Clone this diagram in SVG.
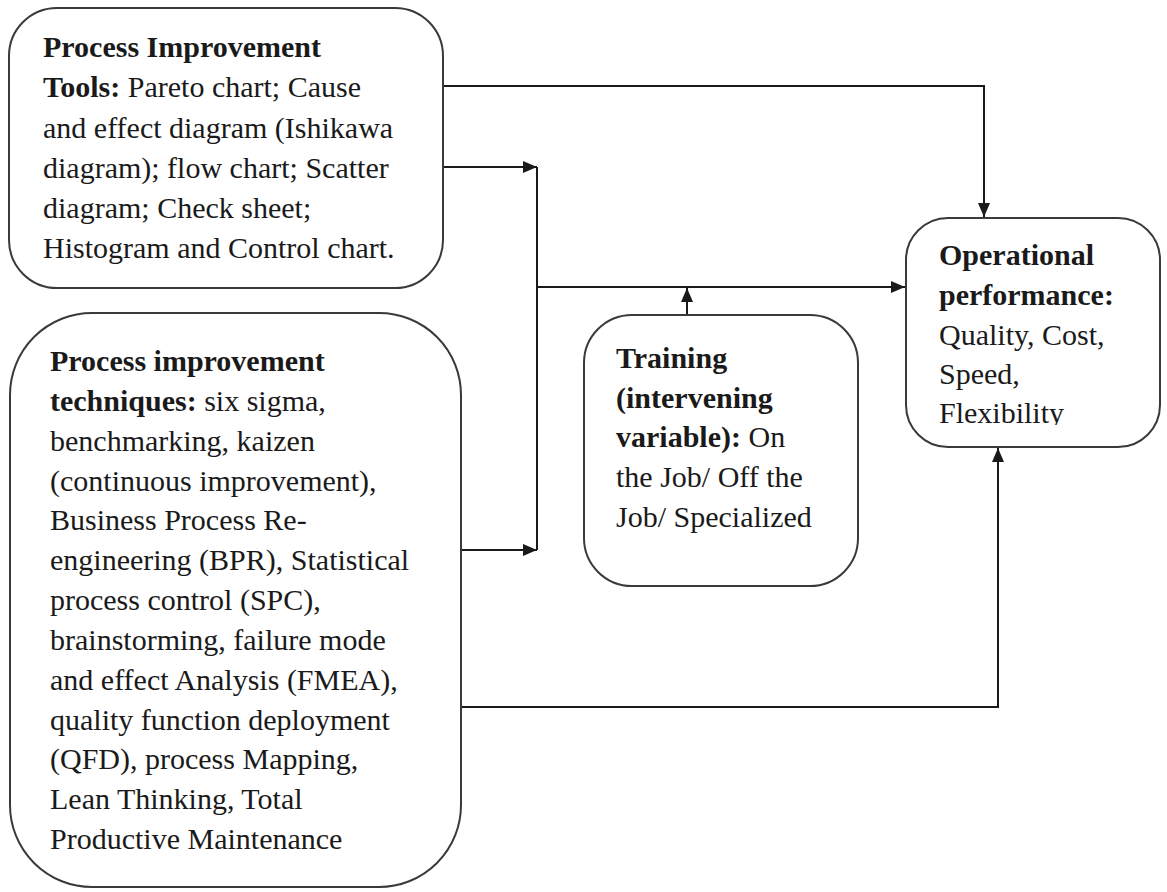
<svg xmlns="http://www.w3.org/2000/svg" width="1167" height="892" viewBox="0 0 1167 892">
<style>
.box{fill:#fff;stroke:#3a3a3a;stroke-width:2}
.t{font-family:"Liberation Serif","Times New Roman",serif;font-size:30px;fill:#1a1a1a}
.b{font-weight:bold}
.c{fill:none;stroke:#1a1a1a;stroke-width:2}
</style>
<defs>
<marker id="ah" markerUnits="userSpaceOnUse" markerWidth="14" markerHeight="12" refX="14" refY="6" orient="auto">
<path d="M0,0 L14,6 L0,12 z" fill="#1a1a1a"/>
</marker>
<clipPath id="flexclip"><rect x="900" y="380" width="260" height="45"/></clipPath>
</defs>
<rect width="1167" height="892" fill="#fff"/>
<g id="connectors">
<path class="c" d="M443,86 H984 V217" marker-end="url(#ah)"/>
<path class="c" d="M443,167 H537" marker-end="url(#ah)"/>
<path class="c" d="M461,550 H537" marker-end="url(#ah)"/>
<path class="c" d="M537,167 V550"/>
<path class="c" d="M537,287 H905" marker-end="url(#ah)"/>
<path class="c" d="M687,315 V288" marker-end="url(#ah)"/>
<path class="c" d="M461,707 H998 V448" marker-end="url(#ah)"/>
</g>
<g id="tools">
<rect class="box" x="9" y="8" width="434" height="280" rx="48" ry="48"/>
<text class="t"><tspan class="b" x="43" y="57">Process Improvement</tspan>
<tspan x="43" y="97"><tspan class="b">Tools:</tspan> Pareto chart; Cause</tspan>
<tspan x="43" y="138">and effect diagram (Ishikawa</tspan>
<tspan x="43" y="178">diagram); flow chart; Scatter</tspan>
<tspan x="43" y="218">diagram; Check sheet;</tspan>
<tspan x="43" y="258">Histogram and Control chart.</tspan></text>
</g>
<g id="techniques">
<rect class="box" x="10" y="313" width="451" height="574" rx="82" ry="82"/>
<text class="t"><tspan class="b" x="50" y="371">Process improvement</tspan>
<tspan x="50" y="411"><tspan class="b">techniques:</tspan> six sigma,</tspan>
<tspan x="50" y="451">benchmarking, kaizen</tspan>
<tspan x="50" y="491">(continuous improvement),</tspan>
<tspan x="50" y="530">Business Process Re-</tspan>
<tspan x="50" y="570">engineering (BPR), Statistical</tspan>
<tspan x="50" y="610">process control (SPC),</tspan>
<tspan x="50" y="650">brainstorming, failure mode</tspan>
<tspan x="50" y="690">and effect Analysis (FMEA),</tspan>
<tspan x="50" y="730">quality function deployment</tspan>
<tspan x="50" y="769">(QFD), process Mapping,</tspan>
<tspan x="50" y="809">Lean Thinking, Total</tspan>
<tspan x="50" y="849">Productive Maintenance</tspan></text>
</g>
<g id="training">
<rect class="box" x="584" y="315" width="274" height="271" rx="48" ry="48"/>
<text class="t"><tspan class="b" x="616" y="368">Training</tspan>
<tspan class="b" x="616" y="408">(intervening</tspan>
<tspan x="616" y="447"><tspan class="b">variable):</tspan> On</tspan>
<tspan x="616" y="487">the Job/ Off the</tspan>
<tspan x="616" y="527">Job/ Specialized</tspan></text>
</g>
<g id="operational">
<rect class="box" x="906" y="218" width="254" height="229" rx="42" ry="42"/>
<text class="t"><tspan class="b" x="939" y="265">Operational</tspan>
<tspan class="b" x="939" y="305">performance:</tspan>
<tspan x="939" y="345">Quality, Cost,</tspan>
<tspan x="939" y="384">Speed,</tspan></text>
<text class="t" x="939" y="423" clip-path="url(#flexclip)">Flexibility</text>
</g>
</svg>
